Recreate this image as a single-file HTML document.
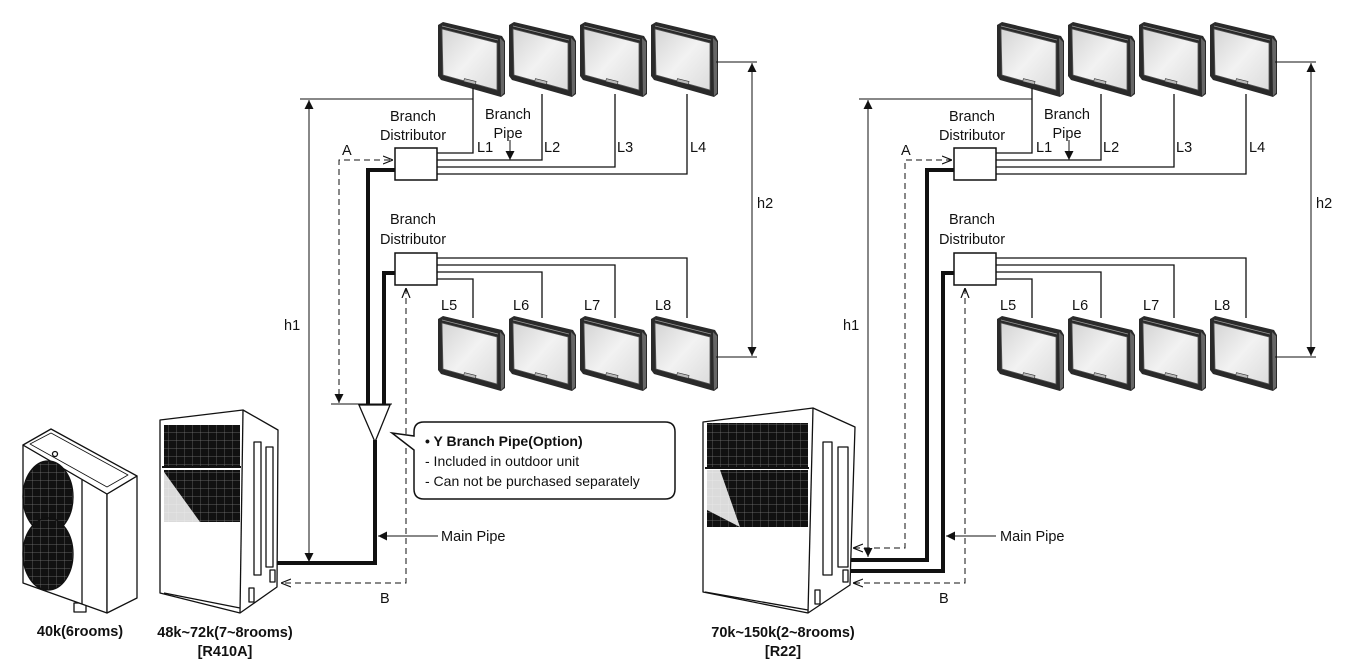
<!DOCTYPE html>
<html><head><meta charset="utf-8"><style>
html,body{margin:0;padding:0;background:#fff;}
svg{display:block;}
text{font-family:"Liberation Sans",sans-serif;fill:#111;}
</style></head><body>
<svg width="1345" height="671" viewBox="0 0 1345 671" xmlns="http://www.w3.org/2000/svg">
<defs>
<linearGradient id="gf" x1="0" y1="0" x2="1" y2="1"><stop offset="0" stop-color="#d4d4d4"/><stop offset="0.5" stop-color="#f2f2f2"/><stop offset="1" stop-color="#dcdcdc"/></linearGradient>
<g id="iu">
<polygon points="0,3 5,0 64,14 67,19 67,72 63,75 3,58 0,54" fill="#2a2a2a"/>
<polygon points="62,16 66,20 66,71 63,74" fill="#666"/>
<polygon points="4,7 59,21 59,68 5,53" fill="url(#gf)" stroke="#555" stroke-width="0.8"/>
<line x1="4" y1="4" x2="60" y2="18" stroke="#999" stroke-width="0.8"/>
<rect x="26" y="58" width="12" height="3" fill="#bbb" stroke="#333" stroke-width="0.6" transform="rotate(14 32 59)"/>
</g>
<marker id="ah" viewBox="0 0 10 10" refX="10" refY="5" markerWidth="9" markerHeight="9" markerUnits="userSpaceOnUse" orient="auto-start-reverse"><path d="M0,0 L10,5 L0,10 z" fill="#111"/></marker>
<marker id="ao" viewBox="0 0 10 10" refX="10" refY="5" markerWidth="10" markerHeight="10" markerUnits="userSpaceOnUse" orient="auto-start-reverse"><path d="M0,1 L10,5 L0,9" fill="none" stroke="#111" stroke-width="1.2"/></marker>
<pattern id="grid" width="8" height="8" patternUnits="userSpaceOnUse"><rect width="8" height="8" fill="#111"/><path d="M0,0 H8 M0,0 V8" stroke="#777" stroke-width="0.7"/></pattern>

<g id="common">
<use href="#iu" x="438" y="22"/><use href="#iu" x="509" y="22"/><use href="#iu" x="580" y="22"/><use href="#iu" x="651" y="22"/>
<use href="#iu" x="438" y="316"/><use href="#iu" x="509" y="316"/><use href="#iu" x="580" y="316"/><use href="#iu" x="651" y="316"/>
<g fill="none" stroke="#111" stroke-width="1.3">
<polyline points="437,153 473,153 473,88"/>
<polyline points="437,160 542,160 542,94"/>
<polyline points="437,167 615,167 615,94"/>
<polyline points="437,174 687,174 687,94"/>
<polyline points="437,258 687,258 687,318"/>
<polyline points="437,265 615,265 615,318"/>
<polyline points="437,272 542,272 542,318"/>
<polyline points="437,279 473,279 473,318"/>
</g>
<rect x="395" y="148" width="42" height="32" fill="#fff" stroke="#111" stroke-width="1.5"/>
<rect x="395" y="253" width="42" height="32" fill="#fff" stroke="#111" stroke-width="1.5"/>
<g stroke="#111" stroke-width="1" fill="none">
<line x1="300" y1="99" x2="473" y2="99"/>
<line x1="716" y1="62" x2="757" y2="62"/>
<line x1="716" y1="357" x2="757" y2="357"/>
<line x1="752" y1="63" x2="752" y2="356" marker-start="url(#ah)" marker-end="url(#ah)"/>
<line x1="510" y1="140" x2="510" y2="160" marker-end="url(#ah)"/>
</g>
<g font-size="14.5" text-anchor="middle">
<text x="413" y="121">Branch</text><text x="413" y="140">Distributor</text>
<text x="508" y="119">Branch</text><text x="508" y="138">Pipe</text>
<text x="413" y="224">Branch</text><text x="413" y="244">Distributor</text>
</g>
<g font-size="14.5">
<text x="477" y="152">L1</text><text x="544" y="152">L2</text><text x="617" y="152">L3</text><text x="690" y="152">L4</text>
<text x="441" y="310">L5</text><text x="513" y="310">L6</text><text x="584" y="310">L7</text><text x="655" y="310">L8</text>
<text x="757" y="208">h2</text><text x="284" y="330">h1</text>
<text x="342" y="155">A</text>
</g>
</g>
</defs>

<use href="#common"/>
<use href="#common" x="559"/>

<g fill="none" stroke="#111">
<line x1="309" y1="100" x2="309" y2="562" stroke-width="1" marker-start="url(#ah)" marker-end="url(#ah)"/>
<polyline points="395,170 368,170 368,405" stroke-width="4"/>
<polyline points="395,273 384,273 384,405" stroke-width="4"/>
<line x1="331" y1="404" x2="392" y2="404" stroke-width="1"/>
<polygon points="359,405 390,405 375,442" fill="#fff" stroke-width="1.3"/>
<polyline points="375,440 375,563 277,563" stroke-width="4"/>
<polyline points="339,395 339,160 393,160" stroke-width="1" stroke-dasharray="6,4" marker-end="url(#ao)"/>
<line x1="339" y1="392" x2="339" y2="403" stroke-width="1" marker-end="url(#ah)"/>
<polyline points="406,288 406,583 281,583" stroke-width="1" stroke-dasharray="6,4" marker-start="url(#ao)" marker-end="url(#ao)"/>
<line x1="438" y1="536" x2="378" y2="536" stroke-width="1" marker-end="url(#ah)"/>
<path d="M424,422 H665 Q675,422 675,432 V489 Q675,499 665,499 H424 Q414,499 414,489 V450 L392,433 L414,436 V432 Q414,422 424,422 Z" fill="#fff" stroke-width="1.5"/>
</g>
<text x="425" y="446" font-size="14" font-weight="bold">• Y Branch Pipe(Option)</text>
<text x="425" y="466" font-size="14">- Included in outdoor unit</text>
<text x="425" y="486" font-size="14">- Can not be purchased separately</text>
<text x="441" y="541" font-size="14.5">Main Pipe</text>
<text x="380" y="603" font-size="14.5">B</text>

<g fill="none" stroke="#111">
<line x1="868" y1="100" x2="868" y2="557" stroke-width="1" marker-start="url(#ah)" marker-end="url(#ah)"/>
<polyline points="954,170 927,170 927,560 851,560" stroke-width="4"/>
<polyline points="954,273 943,273 943,571 851,571" stroke-width="4"/>
<polyline points="952,160 905,160 905,548 853,548" stroke-width="1" stroke-dasharray="6,4" marker-start="url(#ao)" marker-end="url(#ao)"/>
<polyline points="965,288 965,583 853,583" stroke-width="1" stroke-dasharray="6,4" marker-start="url(#ao)" marker-end="url(#ao)"/>
<line x1="996" y1="536" x2="946" y2="536" stroke-width="1" marker-end="url(#ah)"/>
</g>
<text x="1000" y="541" font-size="14.5">Main Pipe</text>
<text x="939" y="603" font-size="14.5">B</text>

<g stroke="#111" stroke-width="1.3" stroke-linejoin="round">
<rect x="26" y="575" width="10" height="8" fill="#fff"/>
<rect x="74" y="603" width="12" height="9" fill="#fff"/>
<polygon points="23,445 107,494 107,613 23,583" fill="#fff"/>
<polygon points="107,494 137,476 137,598 107,613" fill="#fff"/>
<polygon points="23,445 51,429 137,476 107,494" fill="#fff"/>
<polygon points="30,444 51,433 128,475 107,487" fill="none" stroke-width="0.8"/>
<line x1="82" y1="480" x2="82" y2="604"/>
<ellipse cx="48" cy="497" rx="25" ry="36" fill="url(#grid)"/>
<ellipse cx="48" cy="554" rx="25" ry="36" fill="url(#grid)"/>
<circle cx="55" cy="454" r="2.5" fill="#fff"/>
</g>
<g stroke="#111" stroke-width="1.3" stroke-linejoin="round">
<polygon points="160,420 243,410 278,430 277,587 240,613 160,593" fill="#fff"/>
<line x1="243" y1="410" x2="240" y2="613"/>
<rect x="164" y="425" width="76" height="41" fill="url(#grid)" stroke="none"/>
<rect x="164" y="470" width="76" height="52" fill="url(#grid)" stroke="none"/>
<polygon points="164,472 164,522 200,522" fill="#fff" stroke="none" opacity="0.85"/>
<line x1="162" y1="467" x2="241" y2="467" stroke-width="2"/>
<rect x="254" y="442" width="7" height="133" fill="#fff"/>
<rect x="266" y="447" width="7" height="120" fill="#fff"/>
<rect x="270" y="570" width="5" height="12" fill="#fff"/>
<rect x="249" y="588" width="5" height="14" fill="#fff"/>
<line x1="164" y1="593" x2="240" y2="608"/>
</g>
<g stroke="#111" stroke-width="1.3" stroke-linejoin="round">
<polygon points="703,422 813,408 855,427 850,585 808,613 703,592" fill="#fff"/>
<line x1="813" y1="408" x2="808" y2="613"/>
<rect x="707" y="423" width="101" height="44" fill="url(#grid)" stroke="none"/>
<rect x="707" y="470" width="101" height="57" fill="url(#grid)" stroke="none"/>
<polygon points="707,470 707,510 740,527 720,470" fill="#fff" stroke="none" opacity="0.85"/>
<line x1="705" y1="468" x2="809" y2="468" stroke-width="2"/>
<rect x="823" y="442" width="9" height="133" fill="#fff"/>
<rect x="838" y="447" width="10" height="120" fill="#fff"/>
<rect x="843" y="570" width="5" height="12" fill="#fff"/>
<rect x="815" y="590" width="5" height="14" fill="#fff"/>
<line x1="705" y1="592" x2="808" y2="610"/>
</g>

<g font-size="14.5" font-weight="bold" text-anchor="middle">
<text x="80" y="636">40k(6rooms)</text>
<text x="225" y="637">48k~72k(7~8rooms)</text>
<text x="225" y="656">[R410A]</text>
<text x="783" y="637">70k~150k(2~8rooms)</text>
<text x="783" y="656">[R22]</text>
</g>
</svg>
</body></html>
